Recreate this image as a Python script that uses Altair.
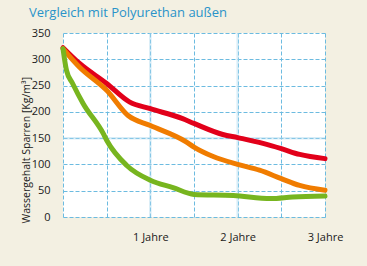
import altair as alt
import pandas as pd

x_red = [0, 0.19, 0.5, 0.76, 1.0, 1.37, 1.5, 1.83, 2.0, 2.29, 2.5, 2.71, 3.0]
y_red = [322, 292, 254, 219, 206, 187, 178, 157, 151, 140, 130, 119, 111]

x_orange = [0, 0.19, 0.5, 0.745, 1.0, 1.41, 1.5, 1.72, 2.0, 2.25, 2.5, 2.71, 3.0]
y_orange = [320, 285, 241, 193, 174, 143, 133, 115, 100, 89, 73, 60, 51]

x_green = [0, 0.04, 0.11, 0.23, 0.46, 0.5, 0.73, 1.0, 1.26, 1.5, 1.95, 2.38, 2.63, 3.0]
y_green = [320, 279, 254, 216, 159, 146, 98, 70, 56, 43, 41, 35, 38, 40]

series_names = ["Rot", "Orange", "Grün"]
series_colors = ["#e2001a", "#f07c00", "#77b51f"]

x_ticks = [0, 0.5, 1, 1.5, 2, 2.5, 3]
y_ticks = [0, 50, 100, 150, 200, 250, 300, 350]
title_text = "Vergleich mit Polyurethan außen"
y_title = "Wassergehalt Sparren [Kg/m³]"

rows = []
for name, xs, ys in zip(series_names, [x_red, x_orange, x_green], [y_red, y_orange, y_green]):
    for i, (a, b) in enumerate(zip(xs, ys)):
        rows.append({"s": name, "x": a, "y": b, "o": i})
df = pd.DataFrame(rows)

font = "Open Sans"

xscale = alt.Scale(domain=[0, 3], nice=False)
yscale = alt.Scale(domain=[0, 350], nice=False)

xaxis = alt.Axis(
    values=x_ticks, grid=True, gridDash=[4, 2], gridColor="#6cbbe0", gridWidth=1,
    domain=False, ticks=False, title=None, labelOverlap=False, labelFlush=False,
    labelExpr="datum.value % 1 == 0 && datum.value > 0 ? datum.value + ' Jahre' : ''",
    labelPadding=14, labelFont=font, labelFontSize=11, labelColor="#1a1a1a",
    labelBaseline="top")
yaxis = alt.Axis(
    values=y_ticks, grid=True, gridDash=[4, 2], gridColor="#6cbbe0", gridWidth=1,
    domain=False, ticks=False, title=y_title, labelOverlap=False, labelFlush=False,
    labelPadding=13, labelFont=font, labelFontSize=11, labelColor="#1a1a1a",
    titleFont=font, titleFontSize=10.5, titleFontWeight="normal", titleColor="#1a1a1a",
    titleAngle=-90, titleX=-37, titleY=190, titleAlign="left", titleBaseline="middle")

lines = alt.Chart(df).mark_line(strokeWidth=5, strokeCap="round", strokeJoin="round", interpolate="monotone").encode(
    x=alt.X("x:Q", scale=xscale, axis=xaxis),
    y=alt.Y("y:Q", scale=yscale, axis=yaxis),
    color=alt.Color("s:N", scale=alt.Scale(domain=series_names, range=series_colors), legend=None),
    order="o:Q",
)

hl_y = alt.Chart(pd.DataFrame({"y": [150]})).mark_rule(color="#a9d6ee", strokeWidth=2.5, opacity=0.45).encode(
    y=alt.Y("y:Q", scale=yscale, axis=yaxis))
hl_x = alt.Chart(pd.DataFrame({"x": [1, 2]})).mark_rule(color="#a9d6ee", strokeWidth=2.5, opacity=0.45).encode(
    x=alt.X("x:Q", scale=xscale, axis=xaxis))

chart = alt.layer(hl_y, hl_x, lines).properties(
    width=262, height=184,
    autosize=alt.AutoSizeParams(type="none"),
    padding={"left": 63, "top": 33, "right": 42, "bottom": 49},
    background="#f3f0e2",
    title=alt.TitleParams(title_text, anchor="start", frame="group", dx=-34, offset=7,
                          font=font, fontSize=13, fontWeight="normal", color="#2a93c9"),
).configure_view(fill="white", stroke=None).configure_axis(labelOverlap=False)

chart.save("out.html", embed_options={"renderer": "svg", "actions": False})
